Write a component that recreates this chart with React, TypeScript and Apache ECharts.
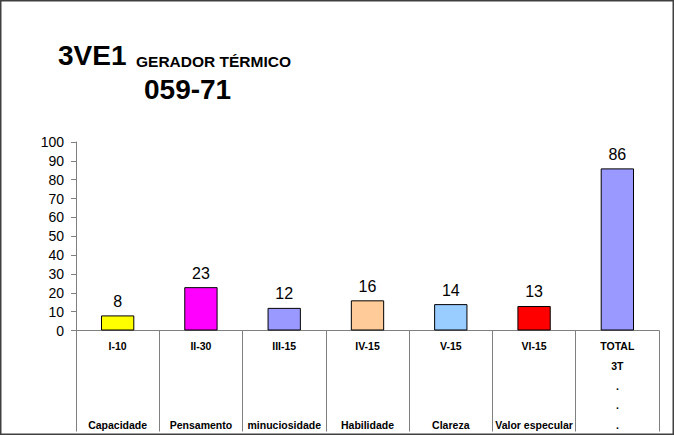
import React, { useEffect, useRef } from "react";
import * as echarts from "echarts";

const codes = ["I-10", "II-30", "III-15", "IV-15", "V-15", "VI-15", "TOTAL"];
const middleRows = [
  ["", "", ""],
  ["", "", ""],
  ["", "", ""],
  ["", "", ""],
  ["", "", ""],
  ["", "", ""],
  ["3T", ".", "."],
];
const names = ["Capacidade", "Pensamento", "minuciosidade", "Habilidade", "Clareza", "Valor especular", "."];
const values = [8, 23, 12, 16, 14, 13, 86];
const colors = ["#FFFF00", "#FF00FF", "#9999FF", "#FFCC99", "#99CCFF", "#FF0000", "#9999FF"];
const yTicks = { min: 0, max: 100, interval: 10 };

const FONT = "'Liberation Sans', Arial, sans-serif";

export default function App() {
  const ref = useRef<HTMLDivElement>(null);
  useEffect(() => {
    document.body.style.margin = "0";
    const chart = echarts.init(ref.current!, null, { renderer: "svg" });
    chart.setOption({
      animation: false,
      backgroundColor: "#ffffff",
      textStyle: { fontFamily: FONT },
      grid: { left: 76, right: 15, top: 142, bottom: 101, containLabel: false },
      xAxis: {
        type: "category",
        data: codes,
        axisLine: { show: true, lineStyle: { color: "#808080", width: 1 } },
        axisTick: { show: true, interval: 0, length: 101, lineStyle: { color: "#808080", width: 1 } },
        axisLabel: {
          interval: 0,
          margin: 6,
          color: "#000",
          fontFamily: FONT,
          fontSize: 10.5,
          fontWeight: "bold",
          lineHeight: 19.7,
          formatter: (_v: string, i: number) =>
            [codes[i], ...middleRows[i].map((s) => (s === "" ? " " : s)), names[i]].join("\n"),
        },
      },
      yAxis: {
        type: "value",
        min: yTicks.min,
        max: yTicks.max,
        interval: yTicks.interval,
        axisLine: { show: true, lineStyle: { color: "#808080", width: 1 } },
        axisTick: { show: true, length: 5, lineStyle: { color: "#808080" } },
        splitLine: { show: false },
        axisLabel: { color: "#000", fontSize: 14, fontFamily: FONT, margin: 12 },
      },
      series: [
        {
          type: "bar",
          barWidth: "40%",
          data: values.map((v, i) => ({
            value: v,
            itemStyle: { color: colors[i], borderColor: "#000", borderWidth: 1 },
          })),
          label: {
            show: true,
            position: "top",
            distance: 6,
            color: "#000",
            fontSize: 16,
            fontFamily: FONT,
          },
        },
      ],
      graphic: [
        {
          type: "rect",
          shape: { x: 0.75, y: 0.75, width: 672.5, height: 433.5 },
          style: { fill: "none", stroke: "#404040", lineWidth: 1.5 },
          silent: true,
        },
        {
          type: "text",
          x: 58,
          y: 55,
          style: {
            text: "3VE1",
            font: `bold 28px ${FONT}`,
            fill: "#000",
            textAlign: "left",
            textVerticalAlign: "middle",
          },
        },
        {
          type: "text",
          x: 136,
          y: 61,
          style: {
            text: "GERADOR TÉRMICO",
            font: `bold 15.5px ${FONT}`,
            fill: "#000",
            textAlign: "left",
            textVerticalAlign: "middle",
          },
        },
        {
          type: "text",
          x: 144,
          y: 89.5,
          style: {
            text: "059-71",
            font: `bold 28px ${FONT}`,
            fill: "#000",
            textAlign: "left",
            textVerticalAlign: "middle",
          },
        },
      ],
    });
    return () => chart.dispose();
  }, []);
  return <div ref={ref} style={{ width: 674, height: 435 }} />;
}
